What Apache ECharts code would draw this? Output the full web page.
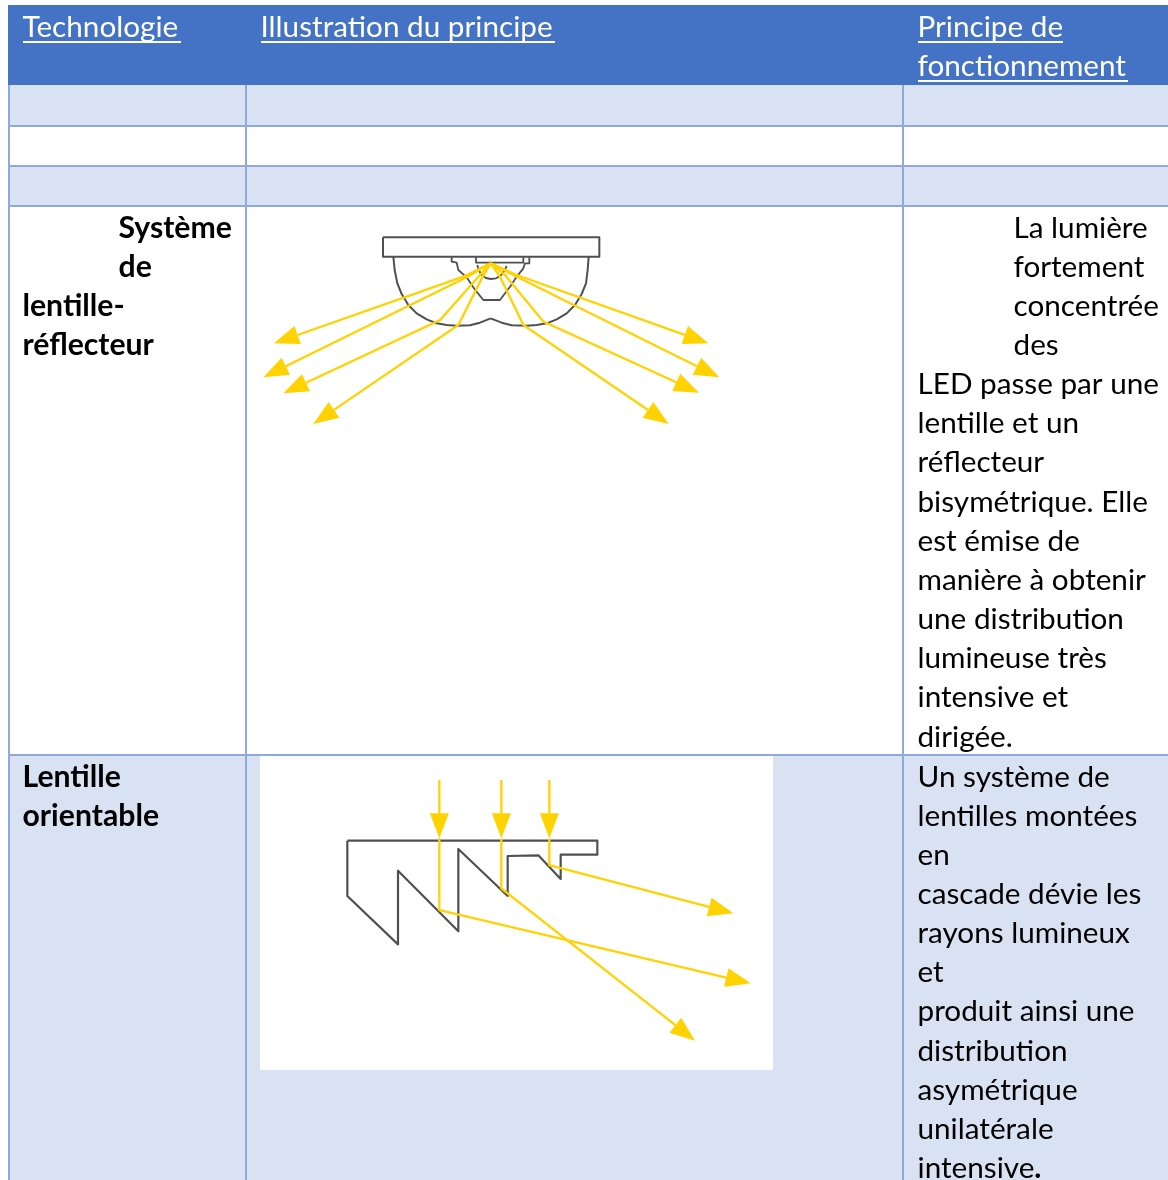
<!DOCTYPE html>
<html>
<head>
<meta charset="utf-8">
<style>html,body{margin:0;padding:0;background:#fff}#chart{width:1168px;height:1180px}</style>
<script src="https://cdn.jsdelivr.net/npm/echarts@6/dist/echarts.min.js"></script>
</head>
<body>
<div id="chart"></div>
<script>
// table
const colEdges = [9, 246, 903, 1168];
const rowEdges = [5, 85, 126, 166, 206, 755, 1180];
const headerTitles = [["Technologie"], ["Illustration du principe"], ["Principe de", "fonctionnement"]];
const underlines = [[23, 181, 42], [261, 555, 42], [918, 1063, 42], [918, 1128, 81]];
const techLines1 = ["Système", "de", "lentille-", "réflecteur"];
const techLines2 = ["Lentille", "orientable"];
const descLines1 = ["La lumière", "fortement", "concentrée", "des", "LED passe par une", "lentille et un", "réflecteur", "bisymétrique. Elle", "est émise de", "manière à obtenir", "une distribution", "lumineuse très", "intensive et", "dirigée."];
const descLines2 = ["Un système de", "lentilles montées", "en", "cascade dévie les", "rayons lumineux", "et", "produit ainsi une", "distribution", "asymétrique", "unilatérale", "intensive{b|.}"];

const housing1 = [[399, 52], [1048, 52], [1048, 110], [399, 110], [399, 52]];
const lensLeft = [[430, 110], [434, 150], [442, 190], [455, 222], [475, 255], [500, 280], [530, 298], [560, 310], [590, 315], [620, 317], [660, 316], [690, 308], [722, 295]];
const lensRight = [[722, 295], [755, 308], [785, 316], [830, 317], [860, 315], [890, 310], [920, 298], [950, 280], [975, 255], [995, 222], [1008, 190], [1013, 150], [1016, 110]];
const reflector = [[605, 112], [605, 125], [620, 128], [625, 150], [650, 172], [672, 205], [700, 240], [750, 240], [780, 200], [800, 170], [820, 145], [825, 130], [838, 130], [838, 112]];
const ledBox = [[678, 112], [678, 128], [820, 128], [820, 112]];
const ledDome = [[682, 135], [686, 150], [695, 165], [708, 174], [722, 177], [738, 175], [752, 167], [763, 153], [770, 138]];
const rays1 = [
  [[722, 130], [640, 170], [72, 370]],
  [[722, 130], [650, 172], [40, 472]],
  [[722, 130], [690, 165], [570, 300], [100, 520]],
  [[722, 130], [698, 170], [625, 315], [190, 612]],
  [[722, 130], [800, 165], [1375, 370]],
  [[722, 130], [790, 165], [1408, 472]],
  [[722, 130], [765, 165], [880, 305], [1347, 518]],
  [[722, 130], [750, 170], [820, 315], [1256, 612]]
];

const prism = [[52, 212], [802, 212], [802, 254], [692, 254], [692, 327], [625, 256], [533, 258], [533, 378], [385, 237], [385, 484], [204, 302], [204, 523], [52, 378], [52, 212]];
const rays2 = [
  [[328, 30], [328, 205]], [[514, 30], [514, 205]], [[658, 30], [658, 205]],
  [[328, 205], [328, 420], [1262, 640]], [[514, 205], [514, 355], [1095, 812]], [[658, 205], [658, 285], [1210, 430]]
];

const BLUE = "#4472C4", BAND = "#D9E2F3", RULE = "#8EAADB", YELLOW = "#FFD200", INK = "#505050";
const FONT = "Lato";
const FS = 29.7;
const FS_BOLD = 30.2;
const LINE = 39.15;

const crop1 = (p) => [250 + p[0] / 3, 220 + p[1] / 3];
const crop2 = (p) => [330 + p[0] / 3, 770 + p[1] / 3];

// row fills
const cells = [];
rowEdges.slice(0, -1).forEach((y0, r) => {
  const fill = r === 0 ? BLUE : r % 2 === 1 ? BAND : "#ffffff";
  cells.push([8, 1168, y0, rowEdges[r + 1], fill]);
});
// white picture background in the last row
cells.push([260, 773, 755, 1070, "#ffffff"]);

// grid rules
const rules = [];
rowEdges.slice(2, -1).forEach((y) => rules.push({ coords: [[8, y], [1168, y]] }));
colEdges.slice(0, 3).forEach((x) => rules.push({ coords: [[x, 85], [x, 1180]] }));

// text rows: [x, y, text, bold, color]
const texts = [];
const addLines = (lines, x, y0, bold, indentCount, indentX, color) => {
  lines.forEach((t, i) => {
    texts.push([i < indentCount ? indentX : x, y0 + i * LINE, t, bold, color]);
  });
};
addLines(headerTitles[0], 22.5, 27, false, 0, 0, "#ffffff");
addLines(headerTitles[1], 260.5, 27, false, 0, 0, "#ffffff");
addLines(headerTitles[2], 917.5, 27, false, 0, 0, "#ffffff");
addLines(techLines1, 22.5, 228, true, 2, 118.5, "#000000");
addLines(techLines2, 22.5, 777, true, 0, 0, "#000000");
addLines(descLines1, 917.5, 228, false, 4, 1013.5, "#000000");
addLines(descLines2, 917.5, 777, false, 0, 0, "#000000");

// paths: [points, width]
const paths = [
  [housing1.map(crop1), 2], [lensLeft.map(crop1), 2], [lensRight.map(crop1), 2], [reflector.map(crop1), 1.8],
  [ledBox.map(crop1), 1.8], [ledDome.map(crop1), 1.8], [prism.map(crop2), 2.2]
];
const arrows = rays1.map((r) => r.map(crop1)).concat(rays2.map((r) => r.map(crop2)));

const drawArrow = (params, api) => {
  const a = arrows[params.dataIndex].map((q) => api.coord(q));
  const tip = a[a.length - 1];
  const prev = a[a.length - 2];
  const dx = tip[0] - prev[0], dy = tip[1] - prev[1];
  const len = Math.sqrt(dx * dx + dy * dy);
  const ux = dx / len, uy = dy / len;
  const bx = tip[0] - ux * 25, by = tip[1] - uy * 25;
  return {
    type: "group",
    children: [
      { type: "polyline", shape: { points: a.slice(0, -1).concat([[bx, by]]) }, style: { fill: null, stroke: YELLOW, lineWidth: 2.3 } },
      { type: "polygon", shape: { points: [tip, [bx - uy * 9.5, by + ux * 9.5], [bx + uy * 9.5, by - ux * 9.5]] }, style: { fill: YELLOW } },
    ],
  };
};

const chart = echarts.init(document.getElementById("chart"), null, { renderer: "canvas" });
chart.setOption({
  animation: false,
  backgroundColor: "#ffffff",
  grid: { left: 0, right: 0, top: 0, bottom: 0 },
  xAxis: { type: "value", min: 0, max: 1168, show: false },
  yAxis: { type: "value", min: 0, max: 1180, inverse: true, show: false },
  series: [
    {
      type: "custom", data: cells, silent: true, clip: false, z: 1,
      renderItem(params, api) {
        const c = cells[params.dataIndex];
        const a = api.coord([c[0], c[2]]), b = api.coord([c[1], c[3]]);
        return { type: "rect", shape: { x: a[0], y: a[1], width: b[0] - a[0], height: b[1] - a[1] }, style: { fill: c[4] } };
      },
    },
    { type: "lines", coordinateSystem: "cartesian2d", data: rules, silent: true, z: 2, lineStyle: { color: RULE, width: 2, opacity: 1 } },
    {
      type: "custom", data: paths.map((p, i) => [i]), silent: true, z: 3,
      renderItem(params, api) {
        const p = paths[params.dataIndex];
        return { type: "polyline", shape: { points: p[0].map((q) => api.coord(q)) }, style: { fill: null, stroke: INK, lineWidth: p[1], lineJoin: "round" } };
      },
    },
    { type: "custom", data: arrows.map((p, i) => [i]), silent: true, z: 4, renderItem: drawArrow },
    { type: "lines", coordinateSystem: "cartesian2d", silent: true, z: 6, lineStyle: { color: "#ffffff", width: 2, opacity: 1 },
      data: underlines.map((u) => ({ coords: [[u[0], u[2]], [u[1], u[2]]] })) },
    {
      type: "custom", data: texts.map((t, i) => [i]), silent: true, z: 7,
      renderItem(params, api) {
        const t = texts[params.dataIndex];
        const p = api.coord([t[0], t[1]]);
        return {
          type: "text", x: p[0], y: p[1],
          style: {
            text: t[2], fill: t[4], fontFamily: FONT, fontSize: t[3] ? FS_BOLD : FS, fontWeight: t[3] ? "bold" : "normal",
            textAlign: "left", textVerticalAlign: "middle",
            rich: { b: { fontFamily: FONT, fontSize: FS, fontWeight: "bold", fill: t[4] } },
          },
        };
      },
    },
  ],
});
</script>
</body>
</html>
